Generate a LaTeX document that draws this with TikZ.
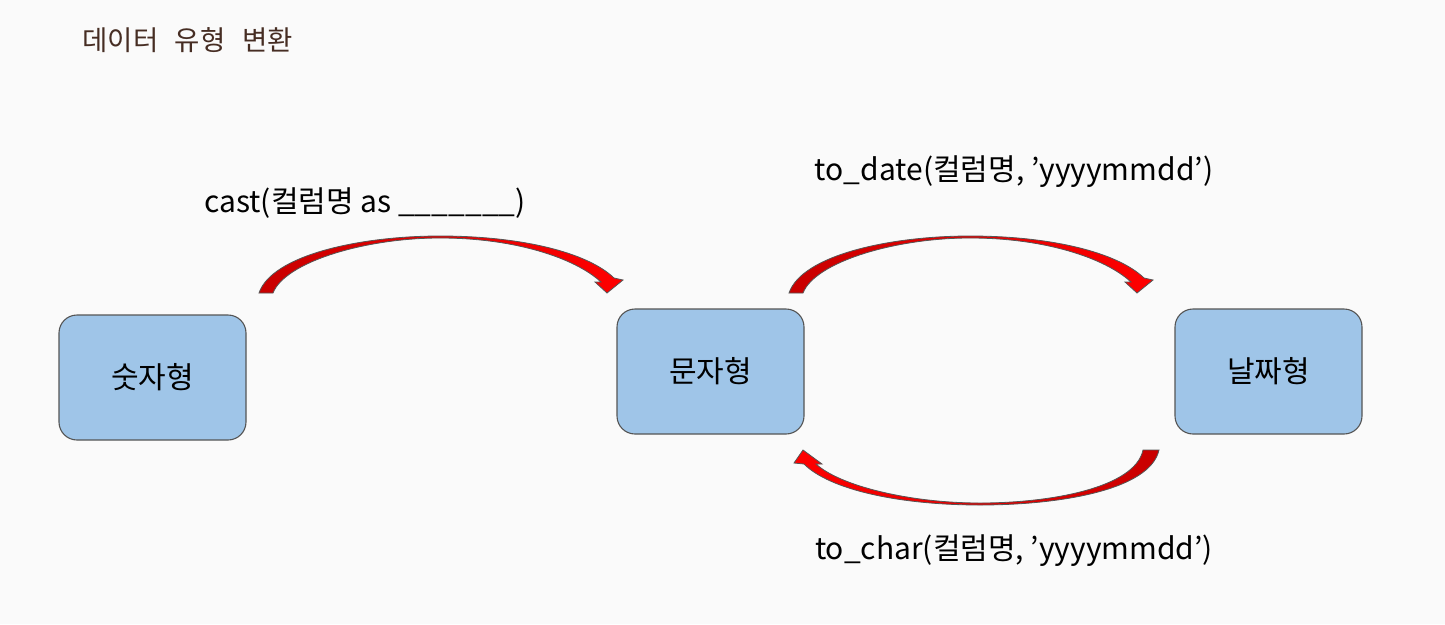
\documentclass[tikz,border=0pt]{standalone}
\usepackage{fontspec}
\setmainfont{Noto Sans CJK KR}
\usepackage{tikz}
\usetikzlibrary{
    positioning,
    calc
}
\definecolor{PageGray}{RGB}{250,250,250}
\definecolor{BoxBlue}{RGB}{159,197,232}
\definecolor{BoxEdge}{RGB}{85,85,85}
\definecolor{TitleBrown}{RGB}{70,45,35}
\definecolor{DeepRed}{RGB}{200,0,0}
\definecolor{BrightRed}{RGB}{255,0,0}

\begin{document}
\begin{tikzpicture}[
    x=1pt,
    y=-1pt,
    typebox/.style={
        draw=BoxEdge,
        line width=1.1pt,
        fill=BoxBlue,
        rounded corners=18pt,
        minimum width=187pt,
        minimum height=125pt,
        font=\fontsize{30}{36}\selectfont
    },
    funclabel/.style={
        font=\fontsize{30}{36}\selectfont
    },
    bentarrow/.style={
        draw=BoxEdge,
        line width=0.8pt
    }
]

\useasboundingbox[fill=PageGray] (0,0) rectangle (1445,624);

\node[text=TitleBrown, font=\fontsize{27.5}{33}\selectfont, anchor=west]
    (title) at (79,40) {데이터\hspace{0.6em}유형\hspace{0.6em}변환};

\node[typebox] (num) at (152.5,377.5) {숫자형};
\node[typebox] (str) at (710.5,371.5) {문자형};
\node[typebox] (date) at (1268.5,371.5) {날짜형};

\node[funclabel] (castlbl) at (365,203) {cast(컬럼명 as \_\_\_\_\_\_\_)};
\node[funclabel] (todatelbl) at (1014,172) {to\_date(컬럼명, ’yyyymmdd’)};
\node[funclabel] (tocharlbl) at (1014,551) {to\_char(컬럼명, ’yyyymmdd’)};

\shadedraw[bentarrow, left color=DeepRed, right color=BrightRed]
    (259,293) .. controls (272,255) and (360,236) .. (440,236)
    .. controls (520,236) and (587,252) .. (614,278)
    -- (623,280) -- (607,293) -- (595,282) -- (601,282)
    .. controls (575,258) and (515,238) .. (440,238)
    .. controls (365,238) and (285,262) .. (273,293)
    -- cycle;

\begin{scope}[xshift=530pt]
\shadedraw[bentarrow, left color=DeepRed, right color=BrightRed]
    (259,293) .. controls (272,255) and (360,236) .. (440,236)
    .. controls (520,236) and (587,252) .. (614,278)
    -- (623,280) -- (607,293) -- (595,282) -- (601,282)
    .. controls (575,258) and (515,238) .. (440,238)
    .. controls (365,238) and (285,262) .. (273,293)
    -- cycle;
\end{scope}

\shadedraw[bentarrow, left color=BrightRed, right color=DeepRed]
    (1159,450) .. controls (1150,490) and (1060,505) .. (980,505)
    .. controls (900,505) and (830,490) .. (804,464)
    -- (794,463) -- (803,450) -- (822,464) -- (816,464)
    .. controls (840,486) and (910,503) .. (980,503)
    .. controls (1050,503) and (1135,488) .. (1143,450)
    -- cycle;

\end{tikzpicture}
\end{document}
